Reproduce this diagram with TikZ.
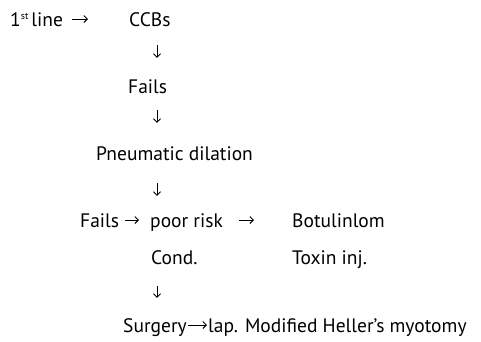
\documentclass[tikz,border=0pt]{standalone}
\usepackage{fontspec}
\setmainfont{PT Sans}
\usetikzlibrary{arrows.meta}
\begin{document}
\begin{tikzpicture}[x=1pt,y=-1pt,
  lbl/.style={anchor=base west,inner sep=0pt,text height=14pt,text depth=0pt,font=\fontsize{19.5}{22}\selectfont},
  arr/.style={-{Straight Barb[length=3.5pt,width=7pt]},line width=0.9pt}]
\useasboundingbox (0,0) rectangle (481,341);
\coordinate (ax) at (157,0);
% nodes
\node[lbl] (first) at (10,26) {1\raisebox{6.5pt}{\fontsize{10}{10}\selectfont st}\hspace{3pt}line};
\node[lbl] (ccbs) at (129,26) {CCBs};
\node[lbl] (fails1) at (128,93) {Fails};
\node[lbl] (pneu) at (96,160) {Pneumatic dilation};
\node[lbl] (fails2) at (80,227) {Fails};
\node[lbl] (poor) at (150,227) {poor risk};
\node[lbl] (botu) at (292,227) {Botulinlom};
\node[lbl] (cond) at (151,264) {Cond.};
\node[lbl] (toxin) at (292,264) {Toxin inj.};
\node[lbl] (surg) at (123,332) {Surgery};
\node[lbl] (lap) at (208,332) {lap. Modified Heller’s myotomy};
% horizontal arrows
\draw[arr] (first.east -| 72,0) -- ([xshift=-41pt]ccbs.west);
\draw[arr] (fails2.east -| 125,0) -- ([xshift=-11pt]poor.west);
\draw[arr] (poor.east -| 239,0) -- ([xshift=-38pt]botu.west);
\draw[arr] (surg.east -| 188,0) -- ([xshift=-1pt]lap.west);
% vertical arrows
\draw[arr,shorten <=19pt,shorten >=21pt] (ccbs.south -| ax) -- (fails1.north -| ax);
\draw[arr,shorten <=17pt,shorten >=23pt] (fails1.south -| ax) -- (pneu.north -| ax);
\draw[arr,shorten <=23pt,shorten >=17pt] (pneu.south -| ax) -- (poor.north -| ax);
\draw[arr,shorten <=22pt,shorten >=20pt] (cond.south -| ax) -- (surg.north -| ax);
\end{tikzpicture}
\end{document}
